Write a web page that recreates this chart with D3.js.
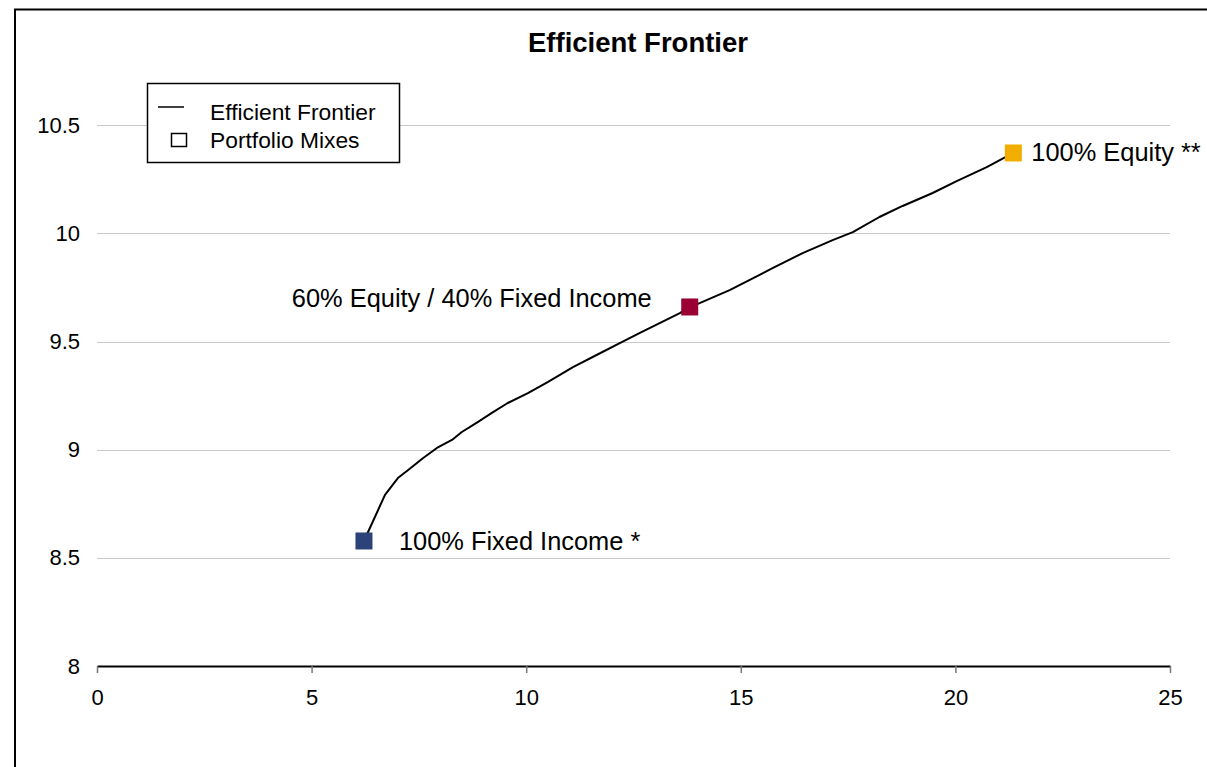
<!DOCTYPE html>
<html>
<head>
<meta charset="utf-8">
<script src="https://cdn.jsdelivr.net/npm/d3@7"></script>
<style>
  html, body { margin: 0; padding: 0; background: #fff; }
  svg { display: block; font-family: "Liberation Sans", Arial, sans-serif; }
</style>
</head>
<body>
<svg id="chart" width="1207" height="767"></svg>
<script>
// Efficient frontier: standard deviation (x) vs expected return (y)
const frontierRisk = [6.22, 6.71, 7.01, 7.25, 7.60, 7.92, 8.27, 8.50, 8.87, 9.20, 9.57, 10.04,
  10.50, 11.09, 11.64, 12.18, 12.65, 13.58, 13.81, 14.04, 14.74, 15.21, 15.74, 16.44,
  17.14, 17.61, 18.23, 18.77, 19.47, 20.03, 20.73, 21.35];
const frontierReturn = [8.578, 8.791, 8.869, 8.906, 8.962, 9.008, 9.045, 9.082, 9.128, 9.170, 9.216, 9.262,
  9.313, 9.382, 9.438, 9.493, 9.540, 9.632, 9.660, 9.678, 9.738, 9.785, 9.840, 9.909,
  9.969, 10.006, 10.076, 10.127, 10.187, 10.242, 10.307, 10.372];

// Portfolio mixes
const mixNames = ["100% Fixed Income *", "60% Equity / 40% Fixed Income", "100% Equity **"];
const mixRisk = [6.22, 13.81, 21.35];
const mixReturn = [8.578, 9.66, 10.372];
const mixColors = ["#2b4378", "#9b0034", "#f2ae00"];

const xTicks = [0, 5, 10, 15, 20, 25];
const yTicks = [8, 8.5, 9, 9.5, 10, 10.5];
const legendLabels = ["Efficient Frontier", "Portfolio Mixes"];
const chartTitle = "Efficient Frontier";

const svg = d3.select("#chart");

const x = d3.scaleLinear().domain([0, 25]).range([97, 1170]);
const y = d3.scaleLinear().domain([8, 10.5]).range([666, 125.3]);

// Outer frame (top and left edges)
svg.append("path")
  .attr("d", "M15,767 V9.5 H1207")
  .attr("fill", "none")
  .attr("stroke", "#000")
  .attr("stroke-width", 2);

// Title
svg.append("text")
  .attr("x", 638).attr("y", 52)
  .attr("text-anchor", "middle")
  .attr("font-weight", "bold")
  .attr("font-size", 27.5)
  .text(chartTitle);

// Horizontal gridlines
svg.append("g")
  .selectAll("line")
  .data(yTicks.filter(d => d > 8))
  .join("line")
  .attr("x1", x(0)).attr("x2", x(25))
  .attr("y1", d => Math.round(y(d)) + 0.5)
  .attr("y2", d => Math.round(y(d)) + 0.5)
  .attr("stroke", "#c8c8c8")
  .attr("stroke-width", 1);

// Y axis labels (no axis line)
const yAxis = d3.axisLeft(y).tickValues(yTicks).tickFormat(d3.format("")).tickSize(0).tickPadding(17);
const gy = svg.append("g").attr("transform", `translate(${x(0)},0)`).call(yAxis);
gy.select(".domain").remove();
gy.selectAll("text").attr("font-size", 22).attr("fill", "#000")
  .attr("font-family", "'Liberation Sans', Arial, sans-serif");

// X axis
const xAxis = d3.axisBottom(x).tickValues(xTicks).tickFormat(d3.format("")).tickSizeInner(7).tickSizeOuter(0).tickPadding(16);
const gx = svg.append("g").attr("transform", `translate(0,${y(8)})`).call(xAxis);
gx.select(".domain").attr("stroke", "#000").attr("stroke-width", 2);
gx.selectAll(".tick line").attr("stroke", "#777").attr("stroke-width", 1.5);
gx.selectAll("text").attr("font-size", 22).attr("fill", "#000")
  .attr("font-family", "'Liberation Sans', Arial, sans-serif");

// Frontier line
const pts = frontierRisk.map((r, i) => [r, frontierReturn[i]]);
svg.append("path")
  .datum(pts)
  .attr("fill", "none")
  .attr("stroke", "#000")
  .attr("stroke-width", 2)
  .attr("stroke-linejoin", "round")
  .attr("d", d3.line().x(d => x(d[0])).y(d => y(d[1])));

// Portfolio markers
const mixes = mixNames.map((n, i) => ({ name: n, r: mixRisk[i], ret: mixReturn[i], color: mixColors[i] }));
const ms = 17;
svg.append("g").selectAll("rect")
  .data(mixes)
  .join("rect")
  .attr("x", d => x(d.r) - ms / 2)
  .attr("y", d => y(d.ret) - ms / 2)
  .attr("width", ms).attr("height", ms)
  .attr("fill", d => d.color);

// Marker labels
const labelPlacement = [
  { dx: 35, dy: 9, anchor: "start" },
  { dx: -38, dy: 0, anchor: "end" },
  { dx: 18, dy: 8, anchor: "start" }
];
svg.append("g").selectAll("text")
  .data(mixes)
  .join("text")
  .attr("x", (d, i) => x(d.r) + labelPlacement[i].dx)
  .attr("y", (d, i) => y(d.ret) + labelPlacement[i].dy)
  .attr("text-anchor", (d, i) => labelPlacement[i].anchor)
  .attr("font-size", 25.4)
  .text(d => d.name);

// Legend
const lg = svg.append("g");
lg.append("rect")
  .attr("x", 147.5).attr("y", 83.5).attr("width", 252).attr("height", 79)
  .attr("fill", "#fff").attr("stroke", "#000").attr("stroke-width", 1.5);
lg.append("line")
  .attr("x1", 158).attr("x2", 184).attr("y1", 107).attr("y2", 107)
  .attr("stroke", "#000").attr("stroke-width", 1.5);
lg.append("rect")
  .attr("x", 171.5).attr("y", 133.5).attr("width", 15).attr("height", 13)
  .attr("fill", "#fff").attr("stroke", "#000").attr("stroke-width", 1.5);
lg.selectAll("text")
  .data(legendLabels)
  .join("text")
  .attr("x", 210)
  .attr("y", (d, i) => 120 + i * 28)
  .attr("font-size", 22.8)
  .text(d => d);
</script>
</body>
</html>
